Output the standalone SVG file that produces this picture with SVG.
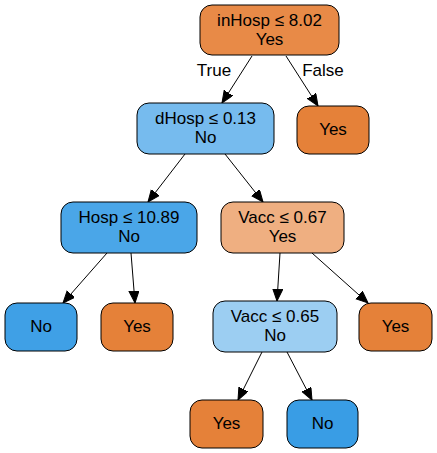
<svg xmlns="http://www.w3.org/2000/svg" width="437" height="453" viewBox="0 0 437 453">
<style>
.n{stroke:#000;stroke-width:1}
text{font-family:"Liberation Sans",Arial,sans-serif;font-size:17px;text-anchor:middle;fill:#000}
.e{stroke:#000;stroke-width:1;fill:none;marker-end:url(#a)}
</style>
<defs>
<marker id="a" markerUnits="userSpaceOnUse" markerWidth="14" markerHeight="12" refX="12" refY="5" orient="auto">
<path d="M0,0 L12,5 L0,10 Z" fill="#000" stroke="#000" stroke-width="1"/>
</marker>
</defs>
<rect width="437" height="453" fill="#fff"/>
<g id="edges">
<path class="e" d="M252,56 L222,103"/>
<path class="e" d="M286,56 L318,106"/>
<path class="e" d="M185,154 L148,202"/>
<path class="e" d="M225,154 L263,202"/>
<path class="e" d="M107,253 L63,303"/>
<path class="e" d="M131,253 L135,303"/>
<path class="e" d="M280,253 L277,301"/>
<path class="e" d="M312,253 L368,303"/>
<path class="e" d="M262,352 L238,400"/>
<path class="e" d="M287,352 L312,400"/>
<text x="214" y="76">True</text>
<text x="323" y="76">False</text>
</g>
<g id="n0"><rect class="n" x="200" y="5" width="139" height="50" rx="12" fill="#e88a47"/><text x="269.5" y="26">inHosp ≤ 8.02</text><text x="269.5" y="45">Yes</text></g>
<g id="n1"><rect class="n" x="137" y="103" width="137" height="51" rx="12" fill="#76bbee"/><text x="205.5" y="124">dHosp ≤ 0.13</text><text x="205.5" y="143">No</text></g>
<g id="n2"><rect class="n" x="297" y="106" width="72" height="48" rx="12" fill="#e58139"/><text x="333" y="135">Yes</text></g>
<g id="n3"><rect class="n" x="61" y="202" width="136" height="51" rx="12" fill="#4aa6e8"/><text x="129" y="223">Hosp ≤ 10.89</text><text x="129" y="242">No</text></g>
<g id="n4"><rect class="n" x="221" y="202" width="123" height="51" rx="12" fill="#efaf81"/><text x="282.5" y="223">Vacc ≤ 0.67</text><text x="282.5" y="242">Yes</text></g>
<g id="n5"><rect class="n" x="5" y="303" width="72" height="48" rx="12" fill="#3fa0e6"/><text x="41" y="332">No</text></g>
<g id="n6"><rect class="n" x="101" y="303" width="72" height="48" rx="12" fill="#e58139"/><text x="137" y="332">Yes</text></g>
<g id="n7"><rect class="n" x="213" y="301" width="124" height="51" rx="12" fill="#9ccef2"/><text x="275" y="322">Vacc ≤ 0.65</text><text x="275" y="341">No</text></g>
<g id="n8"><rect class="n" x="359" y="303" width="73" height="48" rx="12" fill="#e58139"/><text x="395.5" y="332">Yes</text></g>
<g id="n9"><rect class="n" x="190" y="400" width="73" height="48" rx="12" fill="#e58139"/><text x="226.5" y="429">Yes</text></g>
<g id="n10"><rect class="n" x="287" y="400" width="71" height="48" rx="12" fill="#399de5"/><text x="322.5" y="429">No</text></g>
</svg>
